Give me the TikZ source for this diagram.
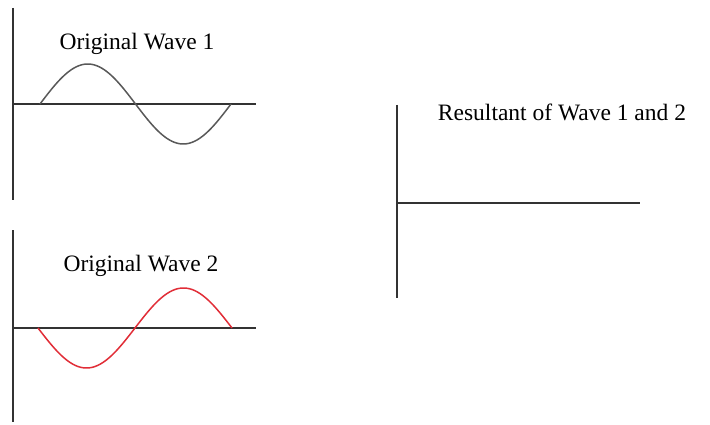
\documentclass[tikz,border=0pt]{standalone}
\usepackage{fontspec}
\setmainfont{Liberation Serif}
\begin{document}
\begin{tikzpicture}[x=1pt,y=-1pt,
  axis/.style={draw=black!80, line width=1.6pt},
  wave/.style={line width=1.5pt},
  lbl/.style={font=\fontsize{23.5}{27}\selectfont, inner sep=0pt, anchor=center}]
\useasboundingbox[fill=white] (0,0) rectangle (710,425);
% panel 1
\coordinate (a1t) at (13,8);
\coordinate (a1b) at (13,200);
\coordinate (h1l) at (13,104);
\coordinate (h1r) at (256,104);
\draw[axis] (a1t) -- (a1b);
\draw[axis] (h1l) -- (h1r);
\draw[wave, draw=black!65] plot[domain=40:231, samples=120, smooth] (\x, {104-40*sin(1.8848*(\x-40))});
\node[lbl] (t1) at (137,44) {Original Wave 1};
% panel 2
\coordinate (a2t) at (13,230);
\coordinate (a2b) at (13,422);
\coordinate (h2l) at (13,328);
\coordinate (h2r) at (256,328);
\draw[axis] (a2t) -- (a2b);
\draw[axis] (h2l) -- (h2r);
\draw[wave, draw={rgb,255:red,225;green,45;blue,55}] plot[domain=38:232, samples=120, smooth] (\x, {328+40*sin(1.8557*(\x-38))});
\node[lbl] (t2) at (141,266) {Original Wave 2};
% panel 3
\coordinate (a3t) at (397,105);
\coordinate (a3b) at (397,298);
\coordinate (h3l) at (397,203);
\coordinate (h3r) at (640,203);
\draw[axis] (a3t) -- (a3b);
\draw[axis] (h3l) -- (h3r);
\node[lbl] (t3) at (562,112) {Resultant of Wave 1 and 2};
\end{tikzpicture}
\end{document}
